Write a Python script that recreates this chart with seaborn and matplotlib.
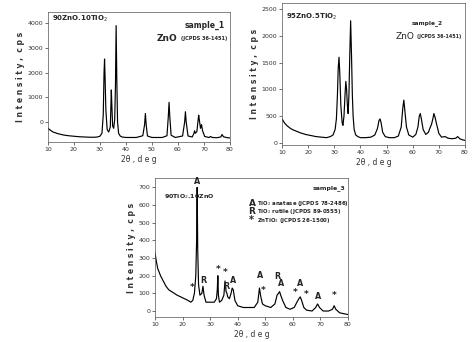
import numpy as np
import pandas as pd
import matplotlib
matplotlib.use("Agg")
import matplotlib.pyplot as plt
import seaborn as sns
from matplotlib.ticker import MultipleLocator

# ---------------- data ----------------
s1_x = [10, 11, 12, 14, 16, 18, 20, 22, 24, 26, 28, 29, 30, 30.8, 31.3, 31.6, 31.8, 32.0, 32.3, 32.8,
        33.4, 34.0, 34.2, 34.4, 34.6, 34.9, 35.3, 35.7, 36.0, 36.25, 36.5, 36.8, 37.2, 37.8, 38.5, 40,
        44, 46.5, 47.2, 47.5, 47.8, 48.3, 50, 54, 55.8, 56.3, 56.6, 56.9, 57.4, 59, 61.8, 62.6, 62.9,
        63.2, 63.9, 65.5, 66.2, 66.4, 66.7, 67.3, 67.8, 68.0, 68.3, 68.7, 69.1, 69.5, 70.3, 72, 72.6,
        73.2, 75, 76.5, 77.0, 77.5, 79, 80]
s1_y = [-250, -330, -400, -470, -520, -550, -570, -590, -600, -610, -610, -600, -570, -450, 300, 2000,
        2550, 1800, 500, -300, -400, -200, 500, 1300, 700, -150, -250, 100, 1500, 3900, 1800, 0, -450,
        -560, -600, -620, -620, -550, -100, 350, -100, -560, -620, -620, -550, 200, 800, 200, -530,
        -620, -560, 0, 420, 0, -560, -600, -450, -350, -450, -380, 100, 280, 50, -250, -100, -350,
        -580, -620, -580, -620, -630, -600, -500, -590, -630, -640]

s2_x = [10, 11, 12, 13, 14, 15, 17, 19, 21, 23, 25, 27, 28.5, 29.5, 30.3, 30.8, 31.2, 31.5, 31.8, 32.1,
        32.5, 33.0, 33.3, 33.7, 34.1, 34.4, 34.7, 35.0, 35.3, 35.6, 35.9, 36.25, 36.6, 36.9, 37.2, 37.6,
        38.2, 39, 40, 42, 44, 45.5, 46.5, 47.1, 47.5, 47.9, 48.5, 49.5, 51, 53, 54.5, 55.6, 56.2, 56.6,
        57.0, 57.6, 58.5, 60, 61.2, 62.0, 62.5, 62.9, 63.3, 64.0, 65, 66, 66.6, 67.2, 67.7, 68.1, 68.6,
        69.0, 69.4, 70, 71, 72.4, 73.5, 75, 76.5, 77.2, 78, 79, 80]
s2_y = [450, 370, 320, 280, 250, 230, 190, 160, 140, 120, 110, 100, 120, 150, 250, 450, 900, 1400, 1600,
        1300, 700, 380, 330, 500, 900, 1150, 1000, 700, 550, 900, 1600, 2280, 1600, 900, 500, 250, 150,
        120, 100, 100, 110, 150, 270, 420, 450, 380, 200, 120, 100, 100, 130, 300, 650, 800, 600, 300,
        150, 110, 160, 300, 500, 550, 450, 250, 160, 200, 280, 350, 450, 550, 470, 380, 300, 180, 110,
        120, 90, 80, 90, 120, 80, 60, 50]

s3_x = [10, 10.5, 11, 12, 13, 14, 15, 16, 18, 20, 22, 23, 23.7, 24.3, 24.8, 25.1, 25.3, 25.5, 25.8, 26.3,
        27.0, 27.4, 27.8, 28.5, 30, 31.5, 32.3, 32.6, 32.8, 33.0, 33.4, 34.2, 35.0, 35.4, 35.8, 36.1,
        36.4, 37.0, 37.6, 38.0, 38.4, 39.0, 40, 42, 44, 46, 47.3, 47.9, 48.4, 49.0, 50, 52, 53.5, 54.3,
        54.8, 55.2, 55.6, 56.3, 57.5, 59, 60.5, 61.5, 62.2, 62.7, 63.2, 64.0, 65, 67, 68.3, 69.0, 69.7,
        71, 73, 74.4, 75.0, 75.6, 77, 78.5, 80]
s3_y = [330, 280, 240, 200, 170, 140, 120, 110, 90, 75, 60, 50, 60, 100, 200, 400, 700, 350, 150, 90,
        100, 140, 90, 50, 50, 50, 70, 120, 200, 90, 50, 60, 90, 170, 110, 100, 80, 70, 100, 130, 120, 60,
        30, 20, 20, 20, 50, 130, 80, 40, 30, 20, 40, 90, 100, 110, 90, 60, 20, 10, 20, 50, 70, 80, 60,
        20, 5, 0, 20, 40, 20, 0, 0, 10, 30, 10, -10, -15, -20]

s3_marks = ["A", "*", "R", "*", "*", "R", "A", "A", "*", "R", "A", "*", "A", "*", "A", "*"]
s3_mark_x = [25.3, 23.6, 27.5, 32.8, 35.4, 35.9, 38.3, 48.0, 49.2, 54.4, 55.8, 60.9, 62.8, 64.7, 69.0, 75.0]
s3_mark_y = [705, 105, 150, 210, 190, 115, 150, 175, 90, 170, 130, 78, 132, 70, 55, 60]

legend_sym = ["A", "R", "*"]
legend_txt = [r"TiO$_2$ anatase (JCPDS 78-2486)", r"TiO$_2$ rutile (JCPDS 89-0555)",
              r"ZnTiO$_3$ (JCPDS 26-1500)"]

sns.set_theme(style="white")
plt.rcParams['font.family'] = ['DejaVu Sans']

fig = plt.figure(figsize=(4.74, 3.42), dpi=100)

ax1 = fig.add_axes([0.101, 0.585, 0.384, 0.380])
ax2 = fig.add_axes([0.595, 0.576, 0.386, 0.415])
ax3 = fig.add_axes([0.327, 0.073, 0.407, 0.406])

for ax, xs, ys in [(ax1, s1_x, s1_y), (ax2, s2_x, s2_y), (ax3, s3_x, s3_y)]:
    df = pd.DataFrame({"x": xs, "y": ys})
    sns.lineplot(data=df, x="x", y="y", ax=ax, color="black", lw=0.85, sort=False)
    ax.set_xlim(10, 80)
    ax.xaxis.set_major_locator(MultipleLocator(10))
    ax.xaxis.set_minor_locator(MultipleLocator(5))
    ax.tick_params(which="both", direction="out", top=False, right=False, labelsize=4.5,
                   colors="#333333", length=2, width=0.5, pad=1.5)
    ax.tick_params(which="minor", length=1.2)
    ax.tick_params(axis="both", which="major", bottom=True, left=True)
    for sp in ax.spines.values():
        sp.set_linewidth(0.5)
        sp.set_color("#555555")
    ax.set_xlabel("2θ , d e g", fontsize=5.5, labelpad=2, color="#333333")
    ax.set_ylabel("I n t e n s i t y ,  c p s", fontsize=5.5, fontweight="bold", labelpad=2,
                  color="#333333")

ax1.set_ylim(-800, 4450)
ax1.set_yticks([0, 1000, 2000, 3000, 4000])
ax1.yaxis.set_minor_locator(MultipleLocator(500))
ax1.text(0.02, 0.93, r"90ZnO.10TiO$_2$", transform=ax1.transAxes, fontsize=5, fontweight="bold")
ax1.text(0.75, 0.88, "sample_1", transform=ax1.transAxes, fontsize=5.5, fontweight="bold")
ax1.text(0.60, 0.78, "ZnO", transform=ax1.transAxes, fontsize=6.5, fontweight="bold")
ax1.text(0.73, 0.785, "(JCPDS 36-1451)", transform=ax1.transAxes, fontsize=3.6, fontweight="bold")

ax2.set_ylim(-37, 2610)
ax2.set_yticks([0, 500, 1000, 1500, 2000, 2500])
ax2.yaxis.set_minor_locator(MultipleLocator(250))
ax2.text(0.02, 0.89, r"95ZnO.5TiO$_2$", transform=ax2.transAxes, fontsize=5, fontweight="bold")
ax2.text(0.71, 0.85, "sample_2", transform=ax2.transAxes, fontsize=4.2, fontweight="bold")
ax2.text(0.62, 0.75, "ZnO", transform=ax2.transAxes, fontsize=6.5)
ax2.text(0.735, 0.755, "(JCPDS 36-1451)", transform=ax2.transAxes, fontsize=3.4, fontweight="bold")

ax3.set_ylim(-34, 752)
ax3.set_yticks([0, 100, 200, 300, 400, 500, 600, 700])
ax3.yaxis.set_minor_locator(MultipleLocator(50))
ax3.text(0.045, 0.855, r"90TiO$_2$.10ZnO", transform=ax3.transAxes, fontsize=4.5, fontweight="bold",
         color="#222222")
ax3.text(0.815, 0.92, "sample_3", transform=ax3.transAxes, fontsize=4.5, fontweight="bold")
for i, (sym, txt) in enumerate(zip(legend_sym, legend_txt)):
    y = 0.82 - i * 0.062
    ax3.text(0.485, y, sym, transform=ax3.transAxes, fontsize=6.5 if sym != "*" else 7,
             fontweight="bold", va="center", ha="left")
    ax3.text(0.53, y, txt, transform=ax3.transAxes, fontsize=3.9, fontweight="bold",
             va="center", ha="left")
for m, mx, my in zip(s3_marks, s3_mark_x, s3_mark_y):
    ax3.text(mx, my, m, fontsize=5.8 if m != "*" else 6.5, fontweight="bold", ha="center",
             va="bottom", color="#222222")

fig.savefig("out.png", dpi=100)
